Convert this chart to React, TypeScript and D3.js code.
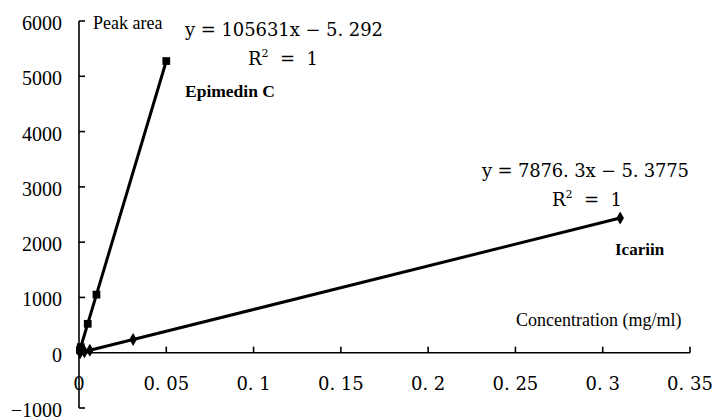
import React from "react";
import * as d3 from "d3";

// concentrations (mg/ml) and peak areas
const epimedinConc = [0.0005, 0.001, 0.005, 0.01, 0.05];
const epimedinArea = [48, 101, 523, 1051, 5276];
const icariinConc = [0.00062, 0.0031, 0.0062, 0.031, 0.31];
const icariinArea = [0, 19, 44, 239, 2436];

const xTicks = [0, 0.05, 0.1, 0.15, 0.2, 0.25, 0.3, 0.35];
const xTickLabels = ["0", "0. 05", "0. 1", "0. 15", "0. 2", "0. 25", "0. 3", "0. 35"];
const yTicks = [-1000, 0, 1000, 2000, 3000, 4000, 5000, 6000];

const W = 714;
const H = 420;
const serif = "'DejaVu Serif', serif";
const times = "'Liberation Serif', 'Times New Roman', Times, serif";
const sp = "\u00a0\u00a0";

const App = () => {
  const x = d3.scaleLinear().domain([0, 0.35]).range([79, 690]);
  const y = d3.scaleLinear().domain([-1000, 6000]).range([408, 21]);

  const epi = epimedinConc.map((c, i) => [c, epimedinArea[i]] as [number, number]);
  const ica = icariinConc.map((c, i) => [c, icariinArea[i]] as [number, number]);

  const line = d3
    .line<[number, number]>()
    .x((d) => x(d[0]))
    .y((d) => y(d[1]));

  const square = d3.symbol().type(d3.symbolSquare).size(60)();
  const diamond = d3.symbol().type(d3.symbolDiamond).size(50)();

  return (
    <svg width={W} height={H} style={{ position: "absolute", left: 0, top: 0, background: "#fff" }}>
      {/* y axis */}
      <line x1={x(0)} x2={x(0)} y1={y(6000)} y2={y(-1000)} stroke="#000" strokeWidth={1.6} />
      {yTicks.map((t) => (
        <g key={t}>
          <line x1={x(0)} x2={x(0) + 6} y1={y(t)} y2={y(t)} stroke="#000" strokeWidth={1.6} />
          <text x={62} y={y(t) + 2} dy="0.35em" textAnchor="end" fontSize={20} style={{ fontFamily: times }}>
            {t < 0 ? "\u2212" + Math.abs(t) : t}
          </text>
        </g>
      ))}

      {/* x axis at y = 0 */}
      <line x1={x(0)} x2={x(0.35)} y1={y(0)} y2={y(0)} stroke="#000" strokeWidth={1.6} />
      {xTicks.map((t, i) => (
        <g key={t}>
          <line x1={x(t)} x2={x(t)} y1={y(0)} y2={y(0) - 6} stroke="#000" strokeWidth={1.6} />
          <text x={x(t)} y={390} textAnchor="middle" fontSize={18} style={{ fontFamily: serif }}>
            {xTickLabels[i]}
          </text>
        </g>
      ))}

      {/* series */}
      <path d={line(epi) || ""} fill="none" stroke="#000" strokeWidth={3} />
      <path d={line(ica) || ""} fill="none" stroke="#000" strokeWidth={3} />
      {epi.map((d, i) => (
        <path key={"e" + i} d={square || ""} transform={`translate(${x(d[0])},${y(d[1])})`} fill="#000" />
      ))}
      {ica.map((d, i) => (
        <path key={"i" + i} d={diamond || ""} transform={`translate(${x(d[0])},${y(d[1])})`} fill="#000" />
      ))}

      {/* annotations */}
      <g style={{ fontFamily: times }}>
        <text x={93} y={29} fontSize={18}>Peak area</text>
        <text x={185} y={97} fontSize={17.5} fontWeight="bold">Epimedin C</text>
        <text x={615} y={255} fontSize={17} fontWeight="bold">Icariin</text>
        <text x={516} y={326} fontSize={18}>Concentration (mg/ml)</text>
      </g>
      <g style={{ fontFamily: serif }}>
        <text x={185} y={36} fontSize={18} textLength={198} lengthAdjust="spacing">
          y = 105631x − 5. 292
        </text>
        <text x={248} y={65} fontSize={18}>
          R<tspan fontSize={11} dy={-8}>2</tspan>
          <tspan dy={8}>{sp + "=" + sp + "1"}</tspan>
        </text>
        <text x={482} y={177} fontSize={18} textLength={207} lengthAdjust="spacing">
          y = 7876. 3x − 5. 3775
        </text>
        <text x={552} y={206} fontSize={18}>
          R<tspan fontSize={11} dy={-8}>2</tspan>
          <tspan dy={8}>{sp + "=" + sp + "1"}</tspan>
        </text>
      </g>
    </svg>
  );
};

export default App;
